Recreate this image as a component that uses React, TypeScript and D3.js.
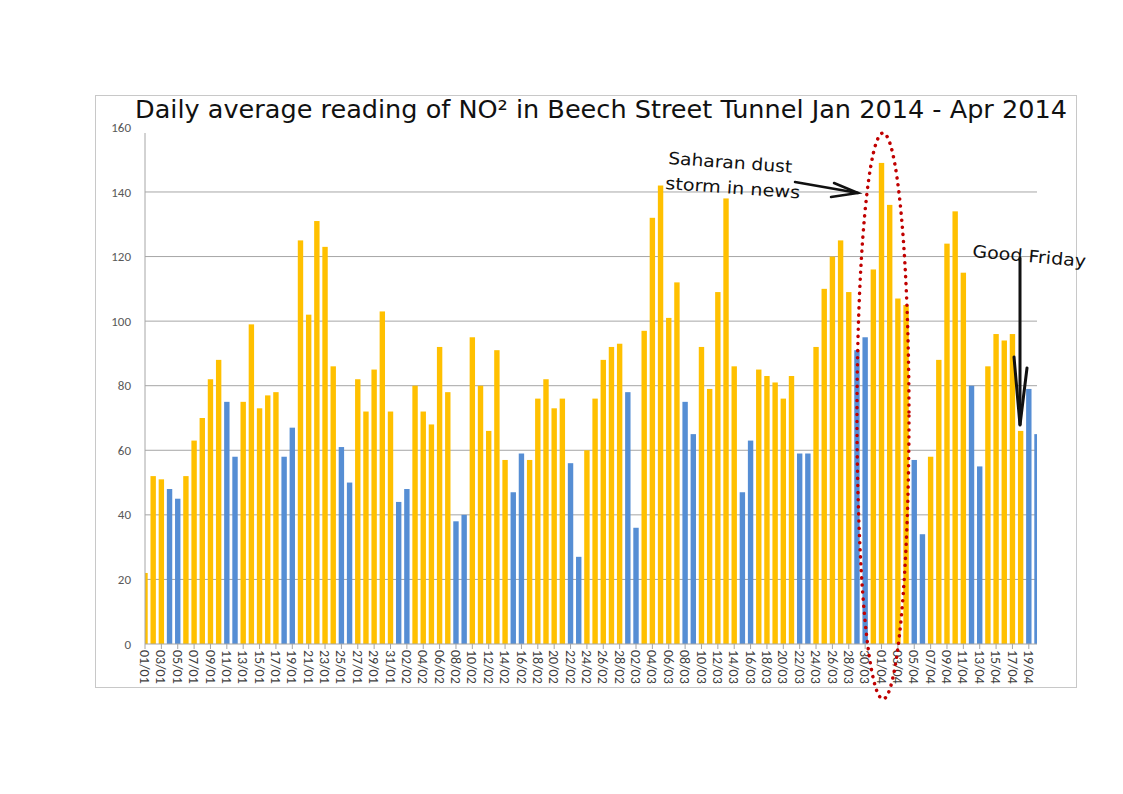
import React from 'react';
import * as d3 from 'd3';

// daily NO2 averages, Beech Street Tunnel
const startDate = new Date(2014, 0, 1);
const endDate = new Date(2014, 3, 21);
const janValues = [22, 52, 51, 48, 45, 52, 63, 70, 82, 88, 75, 58, 75, 99, 73, 77, 78, 58, 67, 125, 102, 131, 123, 86, 61, 50, 82, 72, 85, 103, 72];
const febValues = [44, 48, 80, 72, 68, 92, 78, 38, 40, 95, 80, 66, 91, 57, 47, 59, 57, 76, 82, 73, 76, 56, 27, 60, 76, 88, 92, 93];
const marValues = [78, 36, 97, 132, 142, 101, 112, 75, 65, 92, 79, 109, 138, 86, 47, 63, 85, 83, 81, 76, 83, 59, 59, 92, 110, 120, 125, 109, 91, 95, 116];
const aprValues = [149, 136, 107, 105, 57, 34, 58, 88, 124, 134, 115, 80, 55, 86, 96, 94, 96, 66, 79, 65];
const yTicks = [0, 20, 40, 60, 80, 100, 120, 140, 160];

const title = 'Daily average reading of NO\u00B2 in Beech Street Tunnel Jan 2014 - Apr 2014';

const WEEKDAY = '#FFC000';
const WEEKEND = '#568ED4';

const App: React.FC = () => {
  const dates = d3.timeDay.range(startDate, endDate);
  const values = [...janValues, ...febValues, ...marValues, ...aprValues];
  const fmt = d3.timeFormat('%d/%m');
  const data = dates.map((d, i) => ({ date: d, label: fmt(d), value: values[i], weekend: d.getDay() === 0 || d.getDay() === 6 }));

  const left = 145, right = 1037, top = 127.4, bottom = 644;
  const x = d3.scalePoint<string>().domain(data.map((d) => d.label)).range([left, right]);
  const y = d3.scaleLinear().domain([0, 160]).range([bottom, top]);
  const barW = 5.4;

  const hand = '"Comic Sans MS", "DejaVu Sans", sans-serif';
  const axisFont = 'Calibri, Carlito, "Liberation Sans", "DejaVu Sans", sans-serif';

  return (
    <svg width={1123} height={794} style={{ position: 'absolute', left: 0, top: 0, background: '#fff' }}>
      <defs>
        <clipPath id="plot">
          <rect x={left} y={0} width={right - left} height={bottom} />
        </clipPath>
      </defs>

      {/* chart frame */}
      <rect x={95.5} y={95.5} width={981} height={592} fill="none" stroke="#c8c8c8" strokeWidth={1} />

      {/* gridlines */}
      {yTicks.filter((t) => t > 0 && t < 160).map((t) => (
        <line key={t} x1={left} x2={right} y1={y(t)} y2={y(t)} stroke="#a6a6a6" strokeWidth={1} />
      ))}

      {/* y tick labels */}
      {yTicks.map((t) => (
        <text key={t} x={131} y={y(t)} dy="0.35em" textAnchor="end" fontSize={13} fill="#595959" fontFamily={axisFont}>
          {t}
        </text>
      ))}

      {/* bars */}
      <g clipPath="url(#plot)">
        {data.map((d) => (
          <rect
            key={d.label}
            x={(x(d.label) ?? 0) - barW / 2}
            y={y(d.value)}
            width={barW}
            height={bottom - y(d.value)}
            fill={d.weekend ? WEEKEND : WEEKDAY}
          />
        ))}
      </g>

      {/* axes */}
      <line x1={left} x2={left} y1={133} y2={bottom} stroke="#a6a6a6" strokeWidth={1} />
      <line x1={left} x2={right} y1={bottom} y2={bottom} stroke="#a6a6a6" strokeWidth={1} />

      {/* x ticks and labels (every other day) */}
      {data.filter((_, i) => i % 2 === 0).map((d) => {
        const px = x(d.label) ?? 0;
        return (
          <g key={d.label}>
            <line x1={px} x2={px} y1={bottom} y2={bottom + 5} stroke="#a6a6a6" />
            <text
              transform={`translate(${px},${bottom + 6}) rotate(90)`}
              dy="0.35em"
              fontSize={14}
              fill="#404040"
              fontFamily={axisFont}
            >
              {d.label}
            </text>
          </g>
        );
      })}

      {/* title */}
      <text x={135} y={118} fontSize={25} fontFamily={hand} fill="#111" textLength={932} lengthAdjust="spacingAndGlyphs">
        {title}
      </text>

      {/* Saharan dust annotation */}
      <g fontFamily={hand} fontSize={17} fill="#111">
        <text transform="translate(668,164) rotate(4)" textLength={124} lengthAdjust="spacingAndGlyphs">Saharan dust</text>
        <text transform="translate(665,189) rotate(4)" textLength={135} lengthAdjust="spacingAndGlyphs">storm in news</text>
      </g>
      <g stroke="#111" strokeWidth={2.5} fill="none" strokeLinecap="round">
        <line x1={795} y1={182} x2={858} y2={193} />
        <polyline points="834,183 858,193 831,197" />
      </g>

      {/* dotted ellipse */}
      <ellipse cx={883} cy={416} rx={26} ry={283} fill="none" stroke="#C00000" strokeWidth={3.5} strokeDasharray="0.1 7" strokeLinecap="round" />

      {/* Good Friday annotation */}
      <text transform="translate(972,257) rotate(5)" fontFamily={hand} fontSize={17} fill="#111" textLength={114} lengthAdjust="spacingAndGlyphs">
        Good Friday
      </text>
      <g stroke="#111" strokeWidth={3} fill="none" strokeLinecap="round">
        <line x1={1020} y1={258} x2={1020} y2={425} />
        <polyline points="1014,357 1020,425 1027,368" />
      </g>
    </svg>
  );
};

export default App;
